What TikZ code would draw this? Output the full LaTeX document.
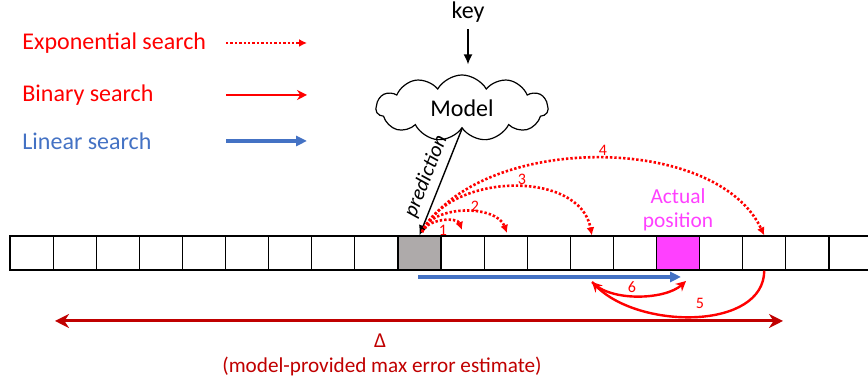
\documentclass[tikz,border=0pt]{standalone}
\usepackage{fontspec}
\setmainfont{Carlito}
\usetikzlibrary{positioning,arrows.meta,shapes.symbols}
\definecolor{expred}{HTML}{FF0000}
\definecolor{linblue}{HTML}{4472C4}
\definecolor{dltred}{HTML}{C00000}
\definecolor{gry}{HTML}{AEAAAA}
\definecolor{mag}{HTML}{FF40FF}

\begin{document}
\begin{tikzpicture}[x=0.5pt, y=0.5pt,
  cell/.style={draw, minimum width=21.55pt, minimum height=17pt, inner sep=0pt, line width=0.6pt},
  exp/.style={expred, line width=1.3pt, dash pattern=on 1.2pt off 1pt, -{Latex[length=4pt,width=4pt]}},
  bin/.style={expred, line width=1.2pt, -{Stealth[length=5pt,width=5pt]}},
  lin/.style={linblue, line width=2pt, -{Triangle[length=5.5pt,width=5pt]}},
  num/.style={text=expred, font=\fontsize{8}{8}\selectfont, inner sep=1pt},
  lgd/.style={anchor=west, font=\fontsize{12}{14}\selectfont, inner sep=0pt}]
      \useasboundingbox (0,0) rectangle (868,383);
      \clip (0,0) rectangle (868,383);

      % legend
      \node[lgd, text=expred] (lg1) at (22,340) {Exponential search};
      \node[lgd, text=expred] (lg2) at (22,288) {Binary search};
      \node[lgd, text=linblue] (lg3) at (22,242) {Linear search};
      \coordinate (la1) at (226,340); \coordinate (lb1) at (307,340);
      \coordinate (la2) at (226,288); \coordinate (lb2) at (307,288);
      \coordinate (la3) at (226,242); \coordinate (lb3) at (307,242);
      \draw[exp] (la1) -- (lb1);
      \draw[bin] (la2) -- (lb2);
      \draw[lin] (la3) -- (lb3);

      % model
      \node[font=\fontsize{12}{14}\selectfont] (key) at (468,371) {key};
      \node[cloud, draw, line width=0.6pt, cloud puffs=11, cloud puff arc=120, aspect=2.6,
            minimum width=86pt, minimum height=33pt, font=\fontsize{12}{14}\selectfont] (model) at (462,275) {Model};
      \draw[line width=0.7pt, -{Latex[length=5pt,width=4.5pt]}, shorten >=5pt] (key) -- (key |- model.north);

      % array
      \foreach \i in {0,1,2,3,4,5,6,7,8,10,11,12,13,14,16,17,18,19}
        \node[cell] (c\i) at ({31.55+43.1*\i},130) {};
      \node[cell, fill=gry] (c9) at ({31.55+43.1*9},130) {};
      \node[cell, fill=mag] (c15) at ({31.55+43.1*15},130) {};
      \node[anchor=south, align=center, text=mag, inner sep=2pt,
            font=\fontsize{10.7}{12}\selectfont] (act) at (c15.north) {Actual\\position};

      \draw[line width=0.7pt, -{Latex[length=5pt,width=4.5pt]}] (model.south) -- (c9.north)
        node[midway, sloped, above, inner sep=3pt, font=\fontsize{10.5}{12}\selectfont\itshape] {prediction};

      % exponential search
      \coordinate (s) at (422,151);
      \coordinate (e1) at (462,153);
      \coordinate (e2) at (507,150);
      \draw[exp] (s) to[out=70,in=110,looseness=0.9] (e1);
      \draw[exp] (s) to[out=70,in=110,looseness=0.9] (e2);
      \draw[exp] (s) to[out=65,in=100,looseness=1.0] (c13.north);
      \draw[exp] (s) to[out=60,in=115,looseness=0.85] (c17.north);
      \node[num] at (443,153) {1};
      \node[num] at (475,177) {2};
      \node[num] at (522,204) {3};
      \node[num] at (603,233) {4};

      % linear search
      \coordinate (l1) at (418,106);
      \coordinate (l2) at (681,106);
      \draw[lin] (l1) -- (l2);

      % binary search
      \coordinate (b5) at (592,101);
      \coordinate (b6) at (686,102);
      \draw[bin] (c17.south) .. controls (764,53) and (640,53) .. (b5);
      \draw[bin] (b5) .. controls (610,81) and (665,83) .. (b6);
      \node[num] at (632,96) {6};
      \node[num] at (700,80) {5};

      % error bound
      \coordinate (d1) at (55,62);
      \coordinate (d2) at (783,62);
      \draw[dltred, line width=1.5pt, {Stealth[length=7pt,width=7pt]}-{Stealth[length=7pt,width=7pt]}] (d1) -- (d2);
      \node[text=dltred, font=\fontsize{10.6}{12}\selectfont] (dl) at (380,42) {Δ};
      \node[text=dltred, font=\fontsize{10.6}{12}\selectfont] (dt) at (382,17) {(model-provided max error estimate)};
\end{tikzpicture}
\end{document}
